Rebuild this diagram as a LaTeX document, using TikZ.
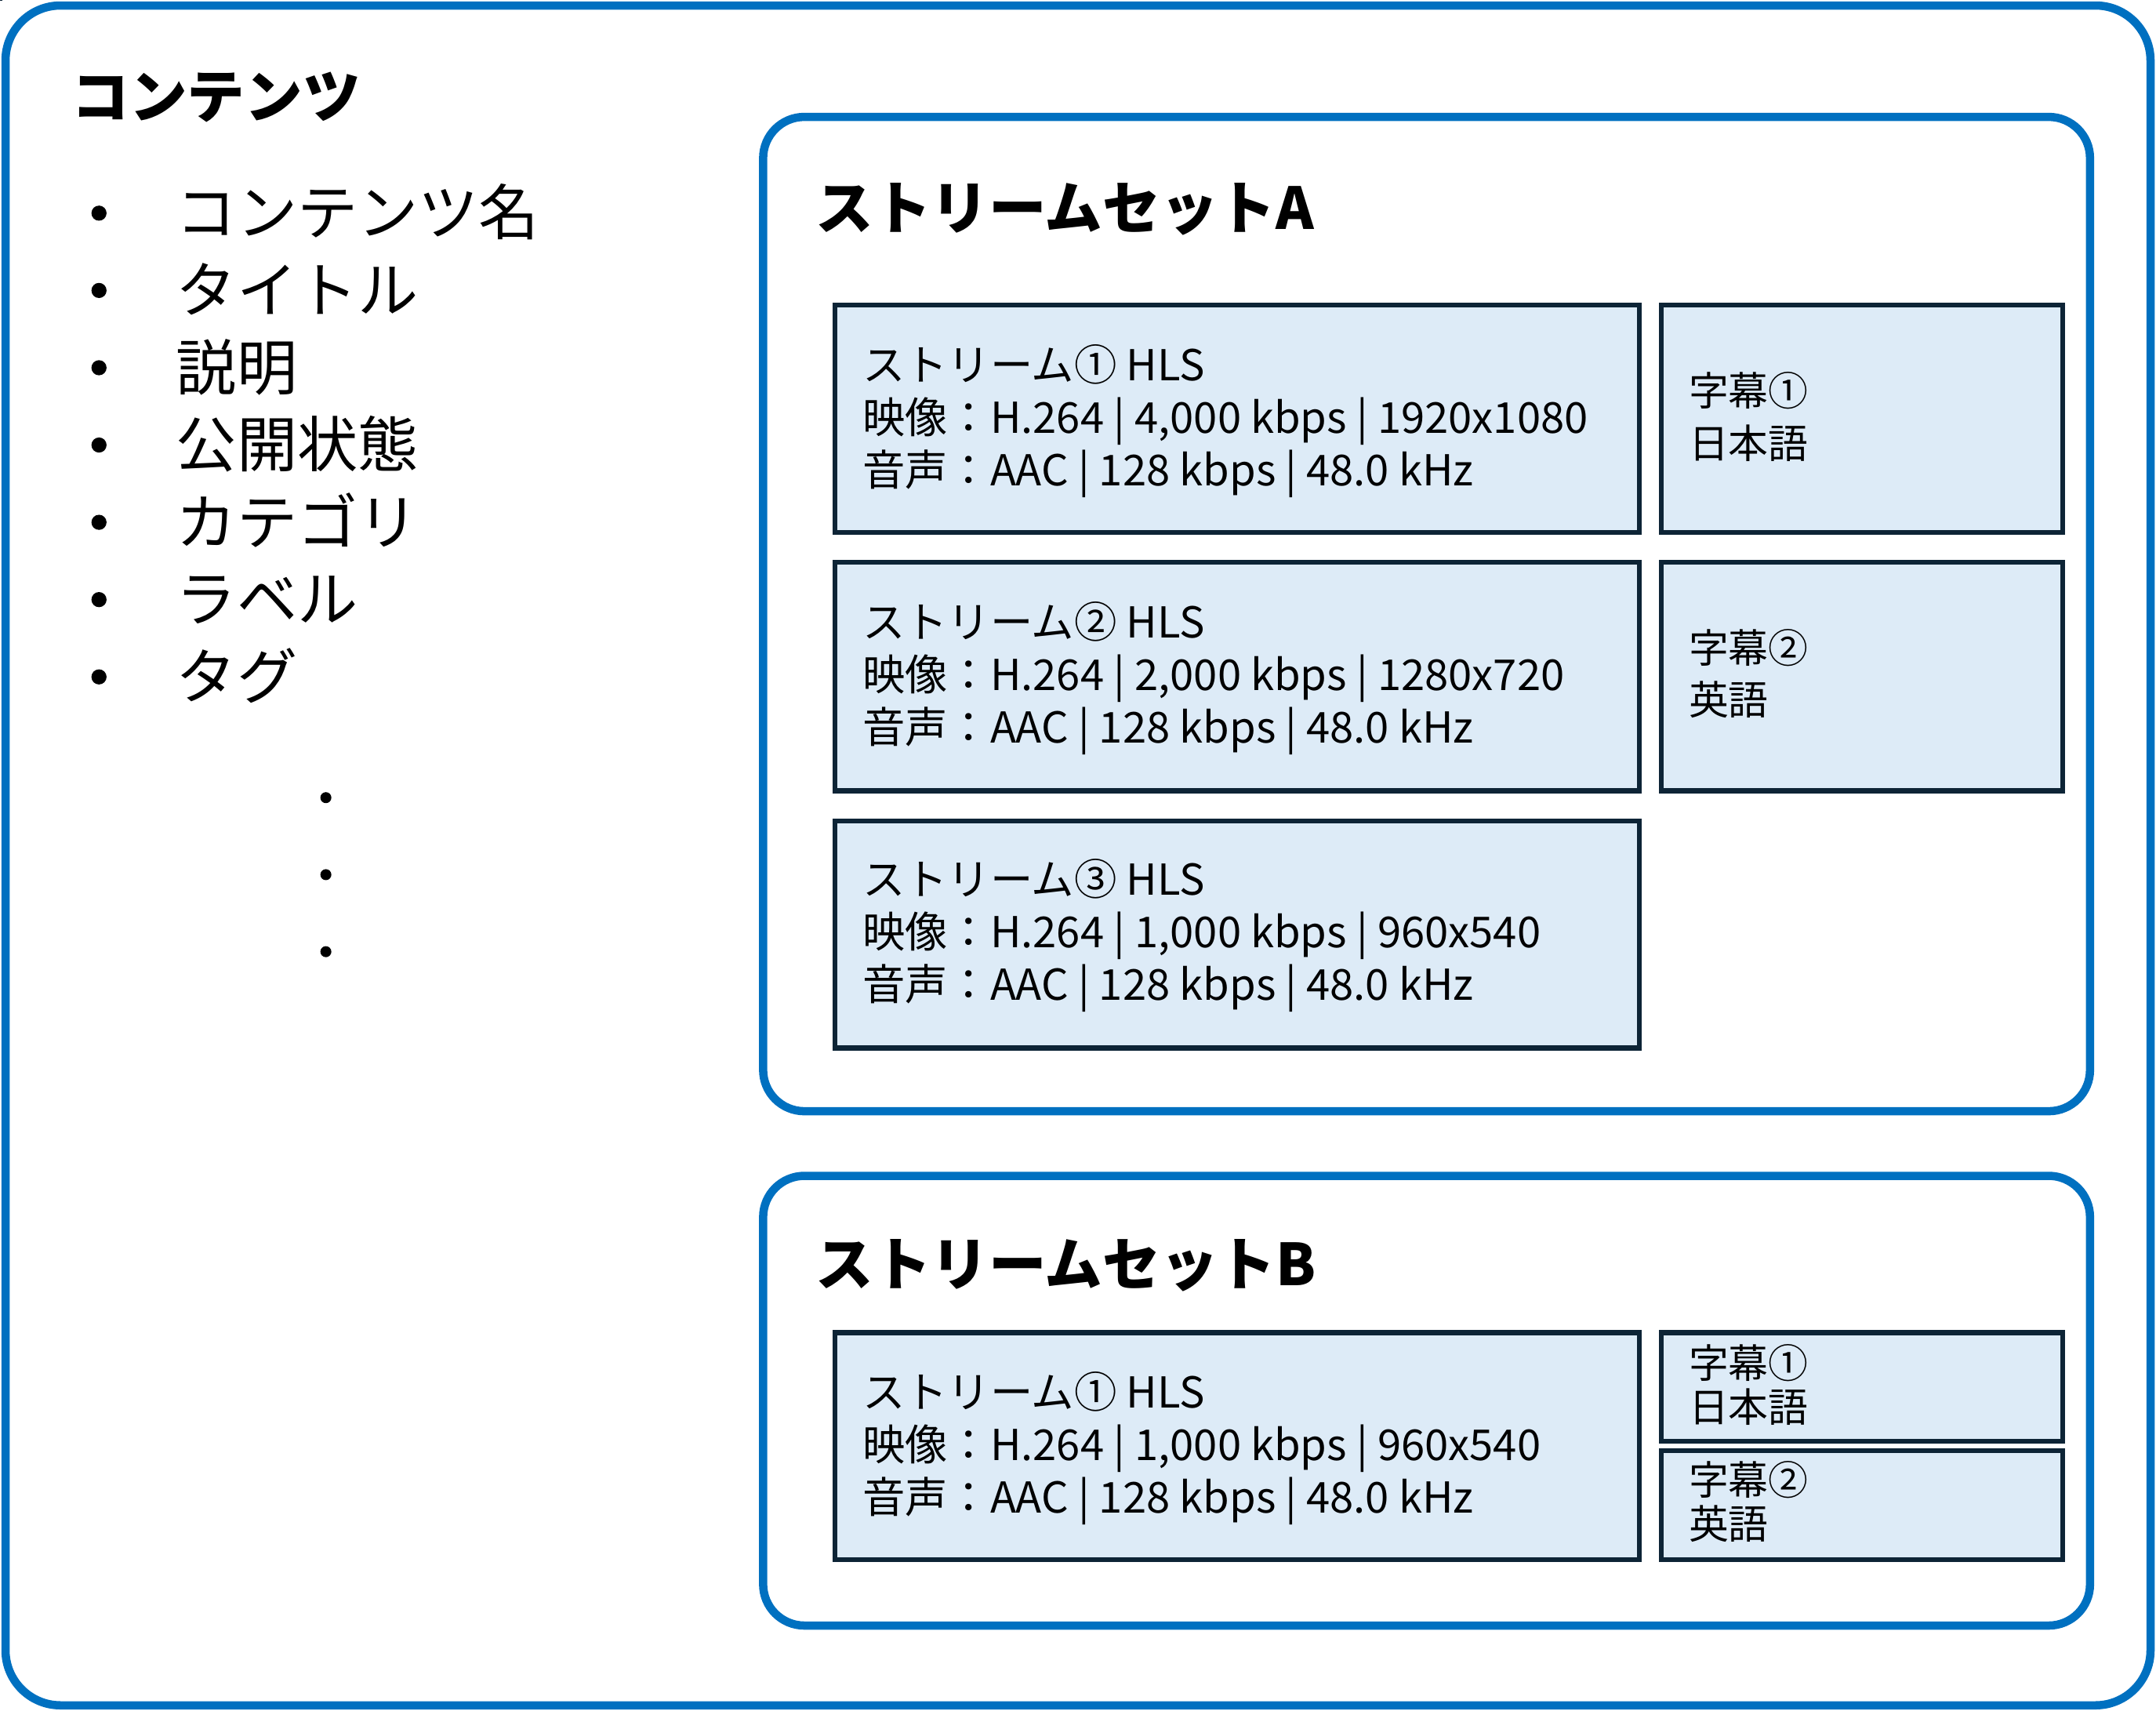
\documentclass[tikz,border=0pt]{standalone}
\usepackage{fontspec}
\setmainfont{Noto Sans CJK JP}
\newfontfamily\jpb{Noto Sans CJK JP}[FakeBold=0]
\definecolor{bblue}{HTML}{0070C0}
\definecolor{sfill}{HTML}{DDEBF7}
\definecolor{sdraw}{HTML}{0D2436}
\tikzset{
 outerbox/.style={draw=bblue,line width=6pt,rounded corners=30pt},
 sbox/.style={draw=sdraw,fill=sfill,line width=3.5pt},
 btitle/.style={anchor=base west,inner sep=0,font=\fontsize{42}{42}\selectfont\bfseries},
 bul/.style={anchor=base west,inner sep=0,font=\fontsize{44}{44}\selectfont},
 sline/.style={anchor=base west,inner sep=0,font=\fontsize{31}{31}\selectfont},
 subl/.style={anchor=base west,inner sep=0,font=\fontsize{29}{29}\selectfont},
}
\begin{document}
\begin{tikzpicture}[x=1pt,y=-1pt]
\useasboundingbox (0,0) rectangle (1568,1244);
\draw[outerbox,rounded corners=40pt] (4,4) rectangle (1564,1240);
\node[btitle] (t0) at (52,86) {コンテンツ};
\foreach \t [count=\i] in {コンテンツ名,タイトル,説明,公開状態,カテゴリ,ラベル,タグ}{
  \fill (72,{155+(\i-1)*56.2}) circle (5.5);
  \node[bul] (b\i) at (128,{171+(\i-1)*56.2}) {\t};
}
\foreach \y in {580,636,692}{\fill (237,\y) circle (4);}
% Set A
\draw[outerbox] (555,85) rectangle (1520,808);
\node[btitle] (ta) at (593,167) {ストリームセットA};
\node[sbox,minimum width=0,inner sep=0] (sa1) at (0,0) {};
\draw[sbox] (607,222) rectangle (1192,387);
\draw[sbox] (607,409) rectangle (1192,575);
\draw[sbox] (607,597) rectangle (1192,762);
\draw[sbox] (1208,222) rectangle (1500,387);
\draw[sbox] (1208,409) rectangle (1500,575);
\foreach \y/\n/\v in {266/①/{4,000 kbps | 1920x1080},453/②/{2,000 kbps | 1280x720},640/③/{1,000 kbps | 960x540}}{
  \node[sline] at (627,\y+11) {ストリーム\n\ HLS};
  \node[sline] at (627,\y+49) {映像：H.264 | \v};
  \node[sline] at (627,\y+87) {音声：AAC | 128 kbps | 48.0 kHz};
}
\node[subl] at (1228,295) {字幕①};
\node[subl] at (1228,333) {日本語};
\node[subl] at (1228,482) {字幕②};
\node[subl] at (1228,520) {英語};
% Set B
\draw[outerbox] (555,855) rectangle (1520,1182);
\node[btitle] (tb) at (593,935) {ストリームセットB};
\draw[sbox] (607,969) rectangle (1192,1134);
\draw[sbox] (1208,969) rectangle (1500,1048);
\draw[sbox] (1208,1055) rectangle (1500,1134);
\node[sline] at (627,1024) {ストリーム① HLS};
\node[sline] at (627,1062) {映像：H.264 | 1,000 kbps | 960x540};
\node[sline] at (627,1100) {音声：AAC | 128 kbps | 48.0 kHz};
\node[subl] at (1228,1002) {字幕①};
\node[subl] at (1228,1034) {日本語};
\node[subl] at (1228,1087) {字幕②};
\node[subl] at (1228,1119) {英語};
\end{tikzpicture}
\end{document}
